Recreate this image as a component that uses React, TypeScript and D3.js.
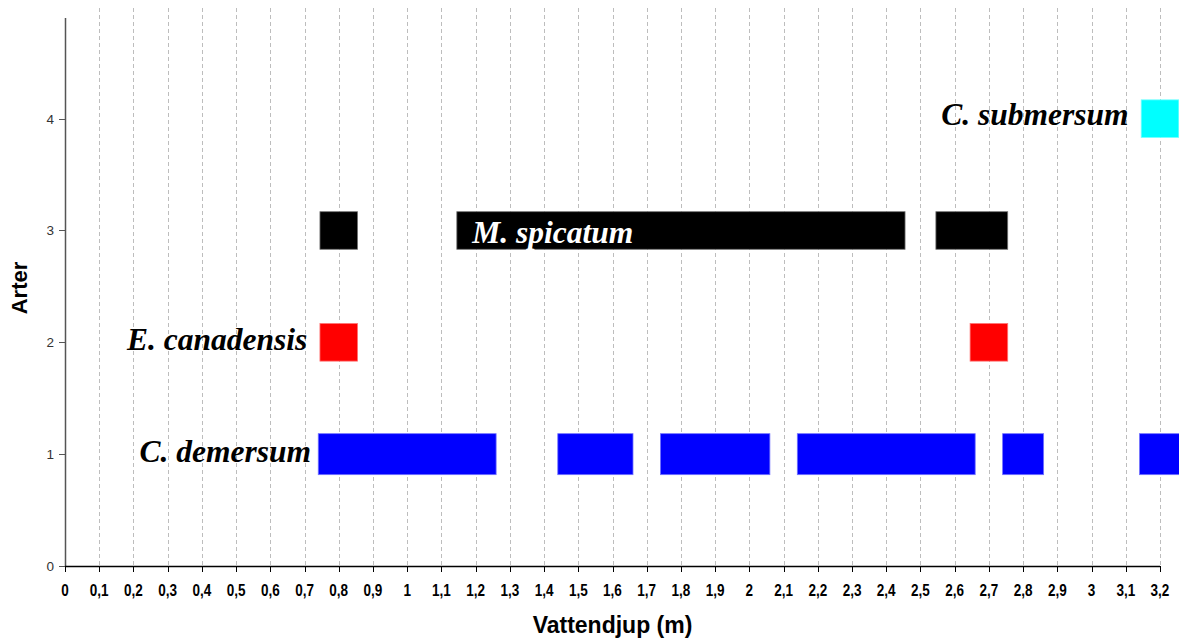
import React from "react";
import * as d3 from "d3";

const speciesNames = ["C. demersum", "E. canadensis", "M. spicatum", "C. submersum"];
const speciesRows = [1, 2, 3, 4];
const speciesColors = ["#0000ff", "#ff0000", "#000000", "#00ffff"];

const demersumDepths = [0.8, 0.9, 1.0, 1.1, 1.2, 1.5, 1.6, 1.8, 1.9, 2.0, 2.2, 2.3, 2.4, 2.5, 2.6, 2.8, 3.2];
const canadensisDepths = [0.8, 2.7];
const spicatumDepths = [0.8, 1.2, 1.3, 1.4, 1.5, 1.6, 1.7, 1.8, 1.9, 2.0, 2.1, 2.2, 2.3, 2.4, 2.6, 2.7];
const submersumDepths = [3.2];
const depthsBySpecies = [demersumDepths, canadensisDepths, spicatumDepths, submersumDepths];

const xTickValues = d3.range(0, 33).map((i) => i / 10);
const yTickValues = [0, 1, 2, 3, 4];

// label anchors in data units
const labelDepth = [0.719, 0.708, 1.19, 3.108];
const labelRowValue = [0.93, 1.93, 2.89, 3.945];
const labelAnchor = ["end", "end", "start", "end"];
const labelFill = ["#000", "#000", "#fff", "#000"];

const W = 1179;
const H = 641;

function runs(depths: number[]) {
  const out: [number, number][] = [];
  const s = [...depths].sort((a, b) => a - b);
  s.forEach((d) => {
    const last = out[out.length - 1];
    if (last && d - last[1] < 0.15) last[1] = d;
    else out.push([d, d]);
  });
  return out;
}

export default function App() {
  const x = d3.scaleLinear().domain([0, 3.2]).range([65, 1160]);
  const y = d3.scaleLinear().domain([0, 4.9]).range([566, 18]);
  const fmt = (v: number) => (Math.round(v * 10) / 10).toString().replace(".", ",");

  return (
    <svg
      width={W}
      height={H}
      style={{ position: "absolute", left: 0, top: 0, background: "#fff" }}
      fontFamily="'Liberation Sans', Arial, sans-serif"
    >
      {/* gridlines */}
      {xTickValues.slice(1).map((v) => (
        <line
          key={"g" + v}
          x1={Math.round(x(v)) + 0.5}
          x2={Math.round(x(v)) + 0.5}
          y1={8}
          y2={y(0)}
          stroke="#bdbdbd"
          strokeWidth={1}
          strokeDasharray="4,3"
        />
      ))}

      {/* bars */}
      {depthsBySpecies.map((depths, si) => {
        const size = si === 0 ? 41 : 37.6;
        const fill = speciesColors[si];
        const stroke = d3.interpolateRgb(fill, "#ffffff")(0.45);
        return runs(depths).map(([a, b], ri) => (
          <rect
            key={si + "-" + ri}
            x={x(a) - size / 2}
            y={y(speciesRows[si]) - size / 2}
            width={x(b) - x(a) + size}
            height={size}
            fill={fill}
            stroke={stroke}
            strokeWidth={0.8}
          />
        ));
      })}

      {/* species labels */}
      {speciesNames.map((n, i) => (
        <text
          key={n}
          x={x(labelDepth[i])}
          y={y(labelRowValue[i])}
          textAnchor={labelAnchor[i] as any}
          fill={labelFill[i]}
          fontFamily="'Liberation Serif', 'Times New Roman', serif"
          fontWeight="bold"
          fontStyle="italic"
          fontSize={31.5}
        >
          {n}
        </text>
      ))}

      {/* y axis */}
      <line x1={65.5} x2={65.5} y1={18} y2={y(0)} stroke="#555" strokeWidth={1.5} />
      {yTickValues.map((v) => (
        <g key={"y" + v}>
          <line x1={59} x2={65} y1={Math.round(y(v)) + 0.5} y2={Math.round(y(v)) + 0.5} stroke="#555" />
          <text x={54} y={y(v) + 5} textAnchor="end" fontSize={13.5} fill="#333">
            {v}
          </text>
        </g>
      ))}

      {/* x axis */}
      <line x1={65} x2={x(3.2)} y1={Math.round(y(0)) + 0.5} y2={Math.round(y(0)) + 0.5} stroke="#000" strokeWidth={1.5} />
      {xTickValues.map((v) => (
        <g key={"x" + v}>
          <line
            x1={Math.round(x(v)) + 0.5}
            x2={Math.round(x(v)) + 0.5}
            y1={y(0)}
            y2={y(0) + 6}
            stroke="#000"
          />
          <text
            transform={`translate(${x(v)},596) scale(0.82,1)`}
            textAnchor="middle"
            fontSize={16.5}
            fontWeight="bold"
            fill="#000"
          >
            {fmt(v)}
          </text>
        </g>
      ))}

      {/* axis titles */}
      <text x={(x(0) + x(3.2)) / 2} y={633} textAnchor="middle" fontSize={23} fontWeight="bold" fill="#000">
        Vattendjup (m)
      </text>
      <text
        transform={`translate(27,288) rotate(-90)`}
        textAnchor="middle"
        fontSize={22}
        fontWeight="bold"
        fill="#000"
      >
        Arter
      </text>
    </svg>
  );
}
